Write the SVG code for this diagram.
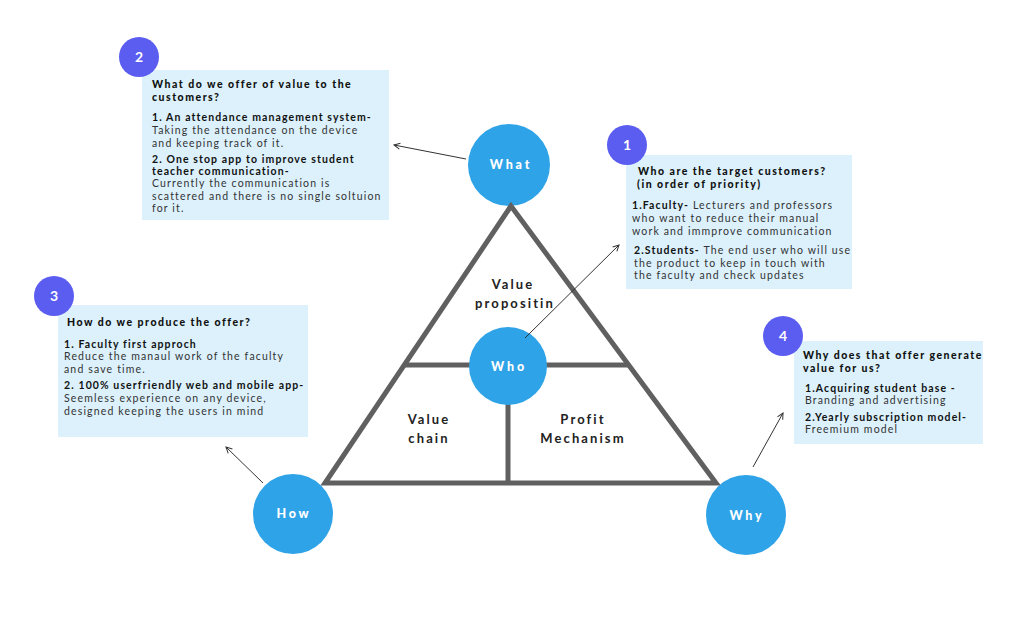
<svg xmlns="http://www.w3.org/2000/svg" width="1024" height="623" viewBox="0 0 1024 623">
<defs>
<marker id="arr" viewBox="0 0 8 8" refX="7" refY="4" markerWidth="8" markerHeight="8" markerUnits="userSpaceOnUse" orient="auto">
<path d="M1,1 L7,4 L1,7" fill="none" stroke="#333" stroke-width="1"/>
</marker>
<style>
.box{fill:#dcf1fc}
.badge{fill:#5b5cf0}
.num{font-family:Lato,"Open Sans",sans-serif;font-weight:700;font-size:14px;fill:#fff;text-anchor:middle}
.node{fill:#2fa3e8}
.nl{font-family:Lato,"Open Sans",sans-serif;font-weight:900;font-size:12.5px;letter-spacing:2.8px;fill:#fff;text-anchor:middle}
.t{font-family:Lato,"Open Sans",sans-serif;font-size:10.5px;letter-spacing:1.15px;fill:#333}
.b{font-weight:700;letter-spacing:1.1px;fill:#111}
.h{font-family:Lato,"Open Sans",sans-serif;font-size:10.5px;font-weight:900;letter-spacing:1.5px;fill:#111}
.tri{fill:none;stroke:#606060;stroke-width:5}
.tl{font-family:Lato,"Open Sans",sans-serif;font-size:13px;font-weight:700;letter-spacing:2.1px;fill:#222;text-anchor:middle}
.c{stroke:#333;stroke-width:1;fill:none;marker-end:url(#arr)}
</style>
</defs>
<rect width="1024" height="623" fill="#fff"/>

<g id="what">
<circle class="node" cx="509" cy="165" r="41"/>
<text class="nl" x="511" y="169">What</text>
</g>

<g id="triangle">
<path class="tri" d="M511,206 L325,483 L716,483 Z"/>
<line class="tri" x1="404" y1="365" x2="628" y2="365"/>
<line class="tri" x1="508" y1="365" x2="508" y2="483"/>
<text class="tl" x="513" y="289">Value</text>
<text class="tl" x="515" y="308">propositin</text>
<text class="tl" x="429" y="424">Value</text>
<text class="tl" x="429" y="443">chain</text>
<text class="tl" x="583" y="424">Profit</text>
<text class="tl" x="583" y="443">Mechanism</text>
</g>

<g id="who">
<circle class="node" cx="508" cy="366" r="39"/>
<text class="nl" x="509" y="371">Who</text>
</g>

<g id="how">
<circle class="node" cx="293" cy="514" r="40"/>
<text class="nl" x="294" y="518">How</text>
</g>

<g id="why">
<circle class="node" cx="746" cy="515" r="40"/>
<text class="nl" x="747" y="520">Why</text>
</g>

<g id="box-what">
<rect class="box" x="142" y="70" width="247" height="150"/>
<circle class="badge" cx="139" cy="57" r="20"/>
<text class="num" x="139" y="62">2</text>
<text class="h" x="152" y="88">What do we offer of value to the</text>
<text class="h" x="152" y="101">customers?</text>
<text class="t b" x="152" y="121">1. An attendance management system-</text>
<text class="t" x="152" y="134">Taking the attendance on the device</text>
<text class="t" x="152" y="147">and keeping track of it.</text>
<text class="t b" x="152" y="163">2. One stop app to improve student</text>
<text class="t b" x="152" y="175">teacher communication-</text>
<text class="t" x="152" y="187">Currently the communication is</text>
<text class="t" x="152" y="200">scattered and there is no single soltuion</text>
<text class="t" x="152" y="212">for it.</text>
</g>

<g id="box-who">
<rect class="box" x="626" y="155" width="226" height="134"/>
<circle class="badge" cx="627" cy="145" r="20"/>
<text class="num" x="627" y="150">1</text>
<text class="h" x="638" y="175">Who are the target customers?</text>
<text class="h" x="637" y="188">(in order of priority)</text>
<text class="t" x="632" y="209"><tspan class="b">1.Faculty-</tspan> Lecturers and professors</text>
<text class="t" x="632" y="222">who want to reduce their manual</text>
<text class="t" x="632" y="235">work and immprove communication</text>
<text class="t" x="634" y="254"><tspan class="b">2.Students-</tspan> The end user who will use</text>
<text class="t" x="634" y="267">the product to keep in touch with</text>
<text class="t" x="634" y="279">the faculty and check updates</text>
</g>

<g id="box-how">
<rect class="box" x="58" y="305" width="250" height="132"/>
<circle class="badge" cx="54" cy="296" r="20"/>
<text class="num" x="54" y="301">3</text>
<text class="h" x="67" y="326">How do we produce the offer?</text>
<text class="t b" x="64" y="348">1. Faculty first approch</text>
<text class="t" x="64" y="360">Reduce the manaul work of the faculty</text>
<text class="t" x="64" y="373">and save time.</text>
<text class="t b" x="64" y="389">2. 100% userfriendly web and mobile app-</text>
<text class="t" x="64" y="402">Seemless experience on any device,</text>
<text class="t" x="64" y="415">designed keeping the users in mind</text>
</g>

<g id="box-why">
<rect class="box" x="794" y="341" width="189" height="103"/>
<circle class="badge" cx="783" cy="336" r="20"/>
<text class="num" x="783" y="341">4</text>
<text class="h" x="803" y="359">Why does that offer generate</text>
<text class="h" x="803" y="372">value for us?</text>
<text class="t b" x="805" y="392">1.Acquiring student base -</text>
<text class="t" x="805" y="404">Branding and advertising</text>
<text class="t b" x="805" y="421">2.Yearly subscription model-</text>
<text class="t" x="805" y="433">Freemium model</text>
</g>

<g id="connectors">
<line class="c" x1="466" y1="159" x2="394" y2="145"/>
<line class="c" x1="525" y1="338" x2="619" y2="245"/>
<line class="c" x1="263" y1="483" x2="226" y2="447"/>
<line class="c" x1="753" y1="467" x2="783" y2="413"/>
</g>
</svg>
